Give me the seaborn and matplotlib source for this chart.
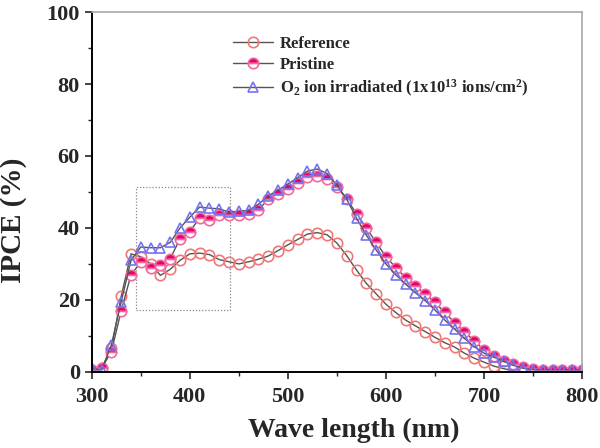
import numpy as np
import pandas as pd
import matplotlib
matplotlib.use("Agg")
import matplotlib.pyplot as plt
import seaborn as sns
from matplotlib.patches import Rectangle
from matplotlib.ticker import MultipleLocator

# wavelength grid (nm)
wavelength = list(range(300, 810, 10))

# IPCE (%)
reference = [0, 1, 6.5, 21, 32.8, 32, 30, 26.8, 28.5, 31, 32.8, 33, 32.6, 31.2, 30.6,
             30, 30.6, 31.3, 32.2, 33.7, 35.3, 36.8, 38.3, 38.7, 38.1, 35.8, 32.3,
             28.3, 24.6, 21.7, 18.8, 16.5, 14.4, 12.8, 11.2, 9.6, 8.1, 6.9, 5.2, 3.8,
             2.7, 1.6, 0.9, 0.3]
pristine = [0.5, 1, 5.6, 17, 27, 30.5, 29, 29.6, 31.5, 37, 39, 42.8, 42.2, 43.6, 43.6,
            43.6, 44, 45, 48, 49.5, 50.8, 52.6, 54.2, 54.5, 53.6, 51.5, 48, 44, 40,
            36, 32, 29, 26.2, 23.9, 21.7, 19.3, 16.5, 13.7, 11.1, 8.7, 6.1, 4.4, 3.1,
            2.2, 1.3, 0.8, 0.5, 0.5, 0.5, 0.5, 0.5]
irradiated = [1, 0.5, 7.5, 19.5, 31, 34.7, 34.5, 34.5, 36, 40, 43, 45.8, 45.5, 45.3,
              44.4, 44.6, 44.9, 46.6, 48.9, 50.5, 52.2, 54, 55.8, 56.4, 55.1, 51.9, 48,
              42.7, 38, 33.9, 30, 27, 24.4, 22, 19.8, 17.2, 14.4, 11.9, 9.3, 7, 5.2,
              4.1, 2.9, 1.8, 1.0, 0.6, 0.6, 0.6, 0.6, 0.6, 0.6]

labels = ["Reference", "Pristine",
          r"O$_2$ ion irradiated (1x10$^{13}$ ions/cm$^2$)"]

# dotted zoom box (nm, %)
box_x = [345, 441]
box_y = [17.2, 51.4]

sns.set_style("ticks")
plt.rcParams["font.family"] = ["Liberation Serif", "DejaVu Serif"]
plt.rcParams["font.weight"] = "bold"
plt.rcParams["mathtext.fontset"] = "custom"
plt.rcParams["mathtext.rm"] = "Liberation Serif:bold"
plt.rcParams["mathtext.it"] = "Liberation Serif:bold"
plt.rcParams["mathtext.bf"] = "Liberation Serif:bold"
plt.rcParams["mathtext.default"] = "rm"

fig = plt.figure(figsize=(6, 4.48), dpi=100)
ax = fig.add_axes([0.153, 0.17, 0.817, 0.803])

df_ref = pd.DataFrame({"wl": wavelength[:len(reference)], "ipce": reference})
df_pri = pd.DataFrame({"wl": wavelength, "ipce": pristine})
df_irr = pd.DataFrame({"wl": wavelength, "ipce": irradiated})

line_kws = dict(color="#555555", linewidth=1.0, markersize=7.5, markeredgewidth=1.2)

sns.lineplot(data=df_ref, x="wl", y="ipce", ax=ax, marker="o",
             markerfacecolor="none", markeredgecolor="#f07878", **line_kws)
sns.lineplot(data=df_pri, x="wl", y="ipce", ax=ax, marker="o",
             fillstyle="top", markerfacecolor="#e8006e", markerfacecoloralt="white",
             markeredgecolor="#f06aa0", **line_kws)
sns.lineplot(data=df_irr, x="wl", y="ipce", ax=ax, marker="^",
             markerfacecolor="none", markeredgecolor="#7474f0", **line_kws)

# connecting lines in dark grey, markers keep their colours
for ln in ax.lines:
    ln.set_color("#555555")

ax.add_patch(Rectangle((box_x[0], box_y[0]), box_x[1] - box_x[0], box_y[1] - box_y[0],
                       fill=False, linestyle=(0, (1, 1.5)), edgecolor="#888888",
                       linewidth=0.9))

ax.set_xlim(300, 800)
ax.set_ylim(0, 100)
ax.xaxis.set_major_locator(MultipleLocator(100))
ax.xaxis.set_minor_locator(MultipleLocator(50))
ax.yaxis.set_major_locator(MultipleLocator(20))
ax.yaxis.set_minor_locator(MultipleLocator(10))
ax.tick_params(which="major", direction="out", length=5, width=1.2,
               labelsize=16, top=False, right=False)
ax.tick_params(axis="x", which="major", pad=6)
ax.tick_params(which="minor", direction="out", length=3, width=1.0,
               top=False, right=False)
for lab in ax.get_xticklabels() + ax.get_yticklabels():
    lab.set_fontweight("bold")

for side in ["left", "bottom"]:
    ax.spines[side].set_color("black")
    ax.spines[side].set_linewidth(1.4)
for side in ["top", "right"]:
    ax.spines[side].set_visible(True)
    ax.spines[side].set_color("#a8a8a8")
    ax.spines[side].set_linewidth(1.2)

ax.set_xlabel("Wave length (nm)", fontsize=20, fontweight="bold")
ax.set_ylabel("IPCE (%)", fontsize=21, fontweight="bold")
ax.xaxis.set_label_coords(0.535, -0.128)
ax.yaxis.set_label_coords(-0.133, 0.42)

leg = ax.legend(handles=ax.lines[:3], labels=labels, loc="upper left",
                bbox_to_anchor=(0.258, 0.975), frameon=False,
                handlelength=2.4, handletextpad=0.4, labelspacing=0.3,
                prop={"weight": "bold", "size": 12})

fig.savefig("out.png", dpi=100)
